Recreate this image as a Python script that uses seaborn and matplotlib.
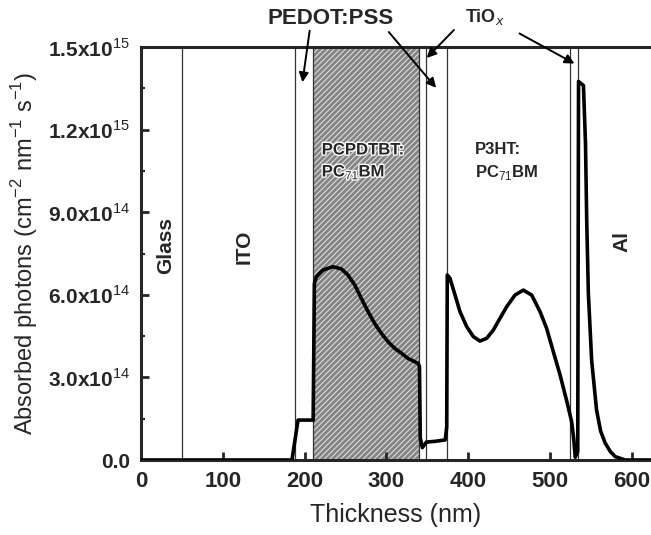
import numpy as np
import pandas as pd
import matplotlib
matplotlib.use("Agg")
import matplotlib.pyplot as plt
import seaborn as sns
from matplotlib import patheffects

# ---------------- data ----------------
thickness_nm = [0, 100, 184.6, 192, 210.5, 212, 214.4, 216.4, 222.5, 234.8, 245,
                253, 261.3, 269.4, 277.6, 285.7, 293.9, 302, 310, 318.3, 326.5,
                338.7, 340.5, 341.5, 344, 349, 360, 372, 373.8, 374.5, 377.8,
                384, 390, 398.3, 406.4, 414.5, 422.7, 430.8, 439, 447.2, 457.3,
                467.5, 477.7, 487.9, 496, 504.2, 512.4, 520.5, 526.5, 529,
                531, 534, 535, 541, 543.5, 545, 547, 551, 557, 562, 567.5, 574,
                580, 592, 623]
absorbed_e14 = [0, 0, 0, 1.45, 1.45, 6.4, 6.66, 6.72, 6.90, 7.02, 6.94,
                6.72, 6.36, 5.87, 5.39, 4.96, 4.60, 4.30, 4.06, 3.88, 3.69,
                3.51, 3.4, 0.8, 0.45, 0.65, 0.68, 0.73, 1.2, 6.72, 6.60,
                5.99, 5.39, 4.84, 4.48, 4.32, 4.42, 4.72, 5.15, 5.57, 5.99,
                6.17, 5.99, 5.39, 4.78, 3.93, 3.09, 2.15, 1.4, 0.8,
                0.1, 0.3, 13.75, 13.6, 11.5, 8.7, 6.06, 3.63, 1.82, 1.05, 0.62, 0.3,
                0.12, 0, 0]

layer_bounds = [50, 188, 210, 340, 349, 374, 525, 534]
active1_span = (210, 340)

x_ticks = [0, 100, 200, 300, 400, 500, 600]
y_ticks = [0, 3e14, 6e14, 9e14, 1.2e15, 1.5e15]
y_tick_labels = ["0.0", r"3.0x10$^{14}$", r"6.0x10$^{14}$", r"9.0x10$^{14}$",
                 r"1.2x10$^{15}$", r"1.5x10$^{15}$"]

df = pd.DataFrame({"Thickness (nm)": thickness_nm,
                   "Absorbed": np.array(absorbed_e14) * 1e14})

# ---------------- style ----------------
sns.set_style("ticks")
plt.rcParams["font.family"] = ["Liberation Sans", "DejaVu Sans"]
plt.rcParams["mathtext.fontset"] = "custom"
plt.rcParams["mathtext.rm"] = "Liberation Sans"
plt.rcParams["mathtext.bf"] = "Liberation Sans:bold"
plt.rcParams["hatch.linewidth"] = 0.7

fig = plt.figure(figsize=(6.51, 5.35), dpi=100)
ax = fig.add_axes([141 / 651, 75 / 535, 1 - 141 / 651, (460 - 47) / 535])

# shaded PCPDTBT:PC71BM layer
ax.axvspan(*active1_span, facecolor="#858585", edgecolor="#e6e6e6",
           hatch="//////", lw=0, zorder=0)

for b in layer_bounds:
    ax.axvline(b, color="#333333", lw=0.9, zorder=1)

sns.lineplot(data=df, x="Thickness (nm)", y="Absorbed", ax=ax, color="black",
             lw=2.6, estimator=None, sort=False, zorder=3)

ax.set_xlim(0, 623.6)
ax.set_ylim(0, 1.5e15)
ax.set_xticks(x_ticks)
ax.set_xticklabels([str(t) for t in x_ticks])
ax.set_yticks(y_ticks)
ax.set_yticklabels(y_tick_labels)
ax.set_yticks([1.5e14, 4.5e14, 7.5e14, 1.05e15, 1.35e15], minor=True)

for lab in ax.get_xticklabels():
    lab.set_fontweight("bold")
    lab.set_fontsize(16)
for lab in ax.get_yticklabels():
    lab.set_fontweight("bold")
    lab.set_fontsize(15)

ax.tick_params(axis="both", which="major", direction="in", length=6, width=2,
               pad=8)
ax.tick_params(axis="y", which="minor", direction="in", length=3, width=1.5)

ax.set_xlabel("Thickness (nm)", fontsize=18, labelpad=8)
ax.set_ylabel(r"Absorbed photons (cm$^{-2}$ nm$^{-1}$ s$^{-1}$)", fontsize=17,
              labelpad=6)

for side in ["left", "bottom", "top"]:
    ax.spines[side].set_linewidth(2.2)
ax.spines["right"].set_visible(False)

# layer labels
ax.text(30.6, 7.8e14, "Glass", rotation=90, ha="center", va="center",
        fontsize=15, fontweight="bold")
ax.text(126, 7.75e14, "ITO", rotation=90, ha="center", va="center",
        fontsize=15, fontweight="bold")
ax.text(588, 7.95e14, "Al", rotation=90, ha="center", va="center",
        fontsize=15, fontweight="bold")
pe = [patheffects.withStroke(linewidth=2, foreground="white")]
ax.text(221, 1.126e15, "PCPDTBT:", ha="left", va="center", fontsize=12,
        fontweight="bold", path_effects=pe)
ax.text(221, 1.046e15, r"PC$_{71}$BM", ha="left", va="center", fontsize=12,
        fontweight="bold", path_effects=pe)
ax.text(408.4, 1.126e15, "P3HT:", ha="left", va="center", fontsize=12,
        fontweight="bold")
ax.text(408.4, 1.046e15, r"PC$_{71}$BM", ha="left", va="center", fontsize=12,
        fontweight="bold")

# top annotations
ax.text(232, 1.605e15, "PEDOT:PSS", ha="center", va="center", fontsize=16,
        fontweight="bold", clip_on=False)
ax.text(420.6, 1.609e15, r"TiO$_x$", ha="center", va="center", fontsize=13,
        fontweight="bold", clip_on=False)
arrow = dict(arrowstyle="-|>", color="black", lw=1.4, mutation_scale=14)
for (x0, y0, x1, y1) in [(206.7, 1.569e15, 196.9, 1.362e15),
                         (300.8, 1.562e15, 363, 1.344e15),
                         (385, 1.569e15, 347, 1.453e15),
                         (459.8, 1.554e15, 533, 1.435e15)]:
    ax.annotate("", xy=(x1, y1), xytext=(x0, y0), arrowprops=arrow,
                annotation_clip=False)

fig.savefig("out.png", dpi=100)
